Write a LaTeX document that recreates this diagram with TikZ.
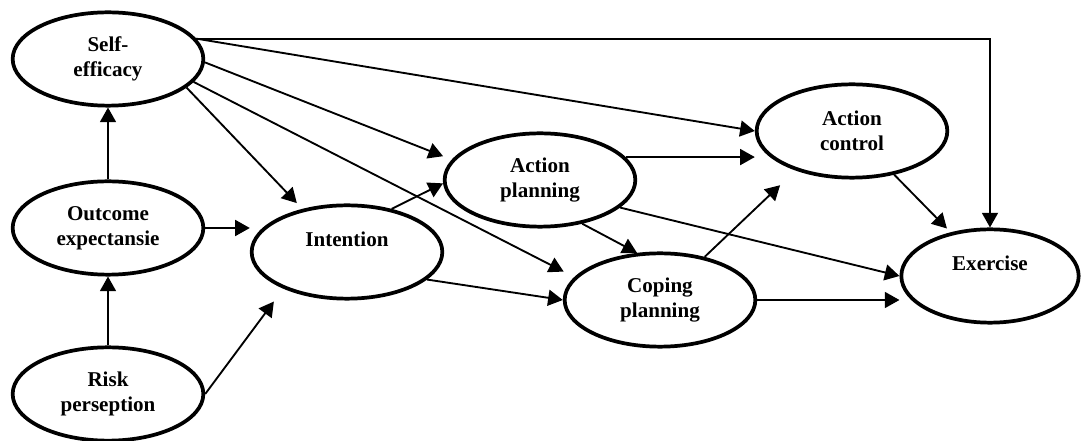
\documentclass[tikz,border=0pt]{standalone}
\usepackage{fontspec}
\setmainfont{Liberation Serif}
\usetikzlibrary{arrows.meta,shapes.geometric}
\tikzset{
  v/.style={ellipse, draw, line width=2.8pt, minimum width=143pt, minimum height=70pt, inner sep=0pt,
    align=center, font=\fontsize{15.8}{18.8}\selectfont\bfseries},
  e/.style={draw, line width=1.4pt, -{Triangle[length=11pt,width=12pt]}},
}

\begin{document}
\begin{tikzpicture}[x=0.75pt, y=-0.75pt]
  \useasboundingbox (0,0) rectangle (1083,441);

  % constructs
  \node[v] (se) at (108,59) {Self-\\efficacy};
  \node[v] (oe) at (108,228) {Outcome\\expectansie};
  \node[v] (rp) at (108,394) {Risk\\perseption};
  \node[v] (in) at (347,252) {Intention\\\mbox{}};
  \node[v] (ap) at (540,180) {Action\\planning};
  \node[v] (cp) at (660,300) {Coping\\planning};
  \node[v] (ac) at (852,131) {Action\\control};
  \node[v, minimum width=133pt] (ex) at (990,276) {Exercise\\\mbox{}};

  % paths between constructs
  \foreach \a/\b/\s in {oe.north/se.south/0, rp.north/oe.south/0, se.-20/in.136/6,
      se.-2/ap.167/7, se.-15/cp.165/9, se.13/ac.west/0, rp.east/in.210/12,
      in.44/ap.182/0, in.-19/cp.west/0, ap.-46/cp.116/0, ap.-19/ex.west/0,
      cp.44/ac.215/16, ac.-46/ex.132/4}
    \draw[e, shorten >=\s pt] (\a) -- (\b);

  % straight across
  \draw[e] (oe.east) -- (oe.east -| in.west);
  \draw[e] (ap.15) -- (ap.15 -| ac.west);
  \draw[e] (cp.east) -- (cp.east -| ex.west);
  % over the top to exercise
  \draw[e] (se.13) -| (ex.north);
\end{tikzpicture}
\end{document}
